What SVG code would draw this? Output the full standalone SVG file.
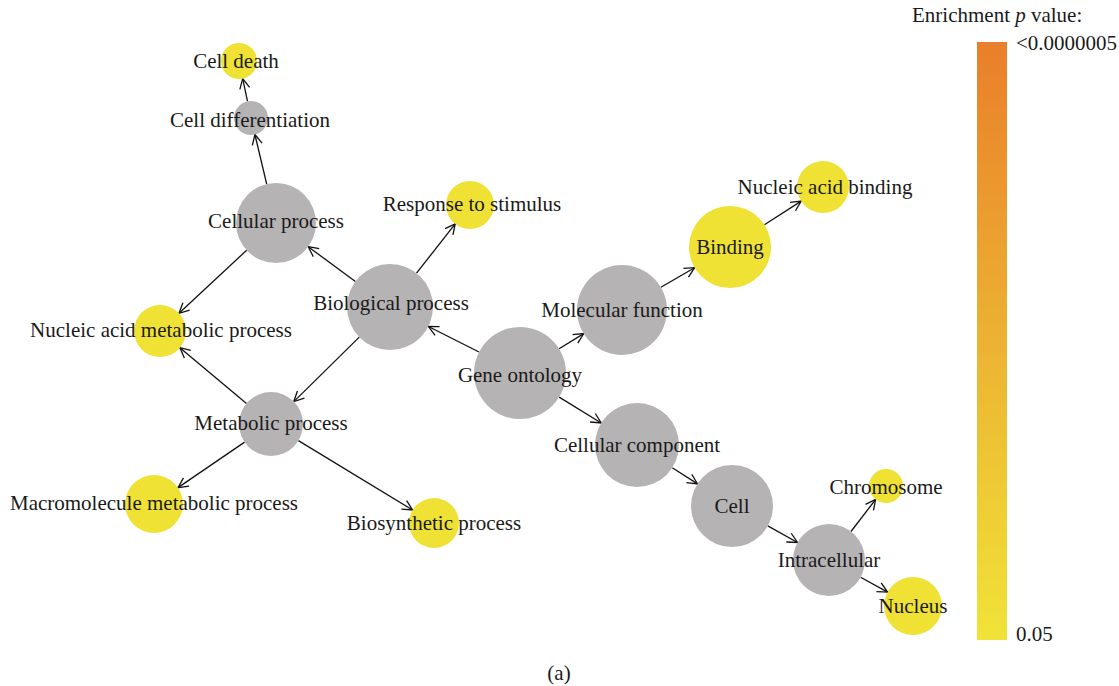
<svg xmlns="http://www.w3.org/2000/svg" width="1119" height="686" viewBox="0 0 1119 686">
<defs>
<style>
text{font-family:"Liberation Serif","DejaVu Serif",serif;font-size:21px;fill:#1a1a1a;text-anchor:middle}
.g{fill:#b5b3b4}
.y{fill:#efe235}
.e{stroke:#111;stroke-width:1.3;fill:none;marker-end:url(#ah)}
.lg{text-anchor:start}
</style>
<marker id="ah" viewBox="0 0 12 12" refX="11" refY="6" markerWidth="12" markerHeight="12" markerUnits="userSpaceOnUse" orient="auto">
<path d="M1,1 L11,6 L1,11" fill="none" stroke="#111" stroke-width="1.3"/>
</marker>
<linearGradient id="cb" x1="0" y1="0" x2="0" y2="1">
<stop offset="0" stop-color="#e97f2a"/>
<stop offset="0.5" stop-color="#ecb232"/>
<stop offset="1" stop-color="#f0e338"/>
</linearGradient>
</defs>
<rect width="1119" height="686" fill="#fff"/>
<g id="connectors">
<line class="e" x1="479" y1="352" x2="428.4" y2="326.5"/>
<line class="e" x1="559.1" y1="348.8" x2="583.7" y2="333.6"/>
<line class="e" x1="559.2" y1="397.1" x2="601.2" y2="423"/>
<line class="e" x1="355.4" y1="281.5" x2="308.2" y2="246.7"/>
<line class="e" x1="416.5" y1="273.2" x2="455.2" y2="223.9"/>
<line class="e" x1="359.3" y1="337.1" x2="293.8" y2="401.6"/>
<line class="e" x1="266.7" y1="184.1" x2="254.9" y2="134.5"/>
<line class="e" x1="247.5" y1="101.4" x2="242.7" y2="78.6"/>
<line class="e" x1="246.7" y1="250.2" x2="179" y2="313.3"/>
<line class="e" x1="246.5" y1="403.5" x2="179.9" y2="347.7"/>
<line class="e" x1="244.6" y1="442.1" x2="178" y2="487.6"/>
<line class="e" x1="298.4" y1="440.6" x2="412.6" y2="510"/>
<line class="e" x1="660.9" y1="287.3" x2="694.6" y2="267.7"/>
<line class="e" x1="764.4" y1="224.8" x2="801.2" y2="201.1"/>
<line class="e" x1="672.3" y1="467.7" x2="697.5" y2="483.9"/>
<line class="e" x1="767.8" y1="525.9" x2="797.5" y2="542.5"/>
<line class="e" x1="851" y1="531.5" x2="875.6" y2="499.5"/>
<line class="e" x1="860.6" y1="577.3" x2="887.6" y2="592.1"/>
</g>
<g id="gene-ontology"><circle class="g" cx="520" cy="373" r="46"/><text x="520" y="382">Gene ontology</text></g>
<g id="biological-process"><circle class="g" cx="390" cy="307" r="43"/><text x="391" y="310">Biological process</text></g>
<g id="molecular-function"><circle class="g" cx="622" cy="310" r="45"/><text x="622" y="317">Molecular function</text></g>
<g id="cellular-component"><circle class="g" cx="637" cy="445" r="42"/><text x="637" y="452">Cellular component</text></g>
<g id="cellular-process"><circle class="g" cx="276" cy="223" r="40"/><text x="276" y="228">Cellular process</text></g>
<g id="response-to-stimulus"><circle class="y" cx="470" cy="205" r="24"/><text x="472" y="211">Response to stimulus</text></g>
<g id="binding"><circle class="y" cx="730" cy="247" r="41"/><text x="730" y="254">Binding</text></g>
<g id="nucleic-acid-binding"><circle class="y" cx="823" cy="187" r="26"/><text x="825" y="194">Nucleic acid binding</text></g>
<g id="nucleic-acid-metabolic-process"><circle class="y" cx="160" cy="331" r="26"/><text x="161" y="337">Nucleic acid metabolic process</text></g>
<g id="metabolic-process"><circle class="g" cx="271" cy="424" r="32"/><text x="271" y="430">Metabolic process</text></g>
<g id="macromolecule-metabolic-process"><circle class="y" cx="154" cy="504" r="29"/><text x="154" y="510">Macromolecule metabolic process</text></g>
<g id="biosynthetic-process"><circle class="y" cx="434" cy="523" r="25"/><text x="434" y="530">Biosynthetic process</text></g>
<g id="cell-differentiation"><circle class="g" cx="251" cy="118" r="17"/><text x="250" y="127">Cell differentiation</text></g>
<g id="cell-death"><circle class="y" cx="239" cy="61" r="18"/><text x="236" y="68">Cell death</text></g>
<g id="cell"><circle class="g" cx="732" cy="506" r="41"/><text x="732" y="513">Cell</text></g>
<g id="intracellular"><circle class="g" cx="829" cy="560" r="36"/><text x="829" y="567">Intracellular</text></g>
<g id="chromosome"><circle class="y" cx="886" cy="486" r="17"/><text x="886" y="494">Chromosome</text></g>
<g id="nucleus"><circle class="y" cx="913" cy="606" r="29"/><text x="913" y="613">Nucleus</text></g>
<g id="legend">
<text class="lg" x="912" y="22">Enrichment <tspan font-style="italic">p</tspan> value:</text>
<rect x="977" y="42" width="30" height="598" fill="url(#cb)"/>
<text class="lg" x="1016" y="50">&lt;0.0000005</text>
<text class="lg" x="1016" y="641">0.05</text>
</g>
<text x="559" y="680">(a)</text>
</svg>
